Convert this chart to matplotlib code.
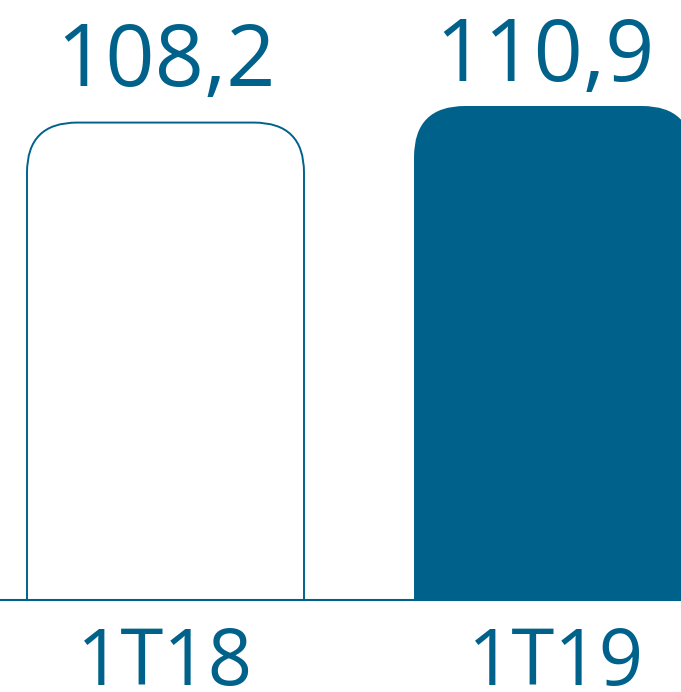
import matplotlib
matplotlib.use("Agg")
import matplotlib.pyplot as plt
from matplotlib.patches import FancyBboxPatch

categories = ["1T18", "1T19"]
values = [108.2, 110.9]
value_labels = ["108,2", "110,9"]

TEAL = "#00628b"
plt.rcParams["font.family"] = ["Open Sans", "DejaVu Sans"]

W, H = 681, 692
fig = plt.figure(figsize=(W / 100, H / 100), dpi=100)
base_px = 600
ax = fig.add_axes([0, (H - base_px) / H, 1, base_px / H])

spacing_px = 388.0
x0_px = 165.5
ax.set_xlim(-x0_px / spacing_px, (W - x0_px) / spacing_px)
y_bottom, y_per_px = 25.6, 1 / 5.78
ax.set_ylim(y_bottom, y_bottom + base_px * y_per_px)

width = 277 / spacing_px
aspect = y_per_px / (1 / spacing_px)
radius = 50 / spacing_px
for i, v in enumerate(values):
    filled = i == 1
    patch = FancyBboxPatch(
        (i - width / 2, y_bottom - 20), width, v - y_bottom + 20,
        boxstyle=f"round,pad=0,rounding_size={radius}",
        mutation_aspect=aspect,
        facecolor=TEAL if filled else "white",
        edgecolor=TEAL, linewidth=1.4,
    )
    ax.add_patch(patch)

# value labels above the bars
offsets = [(0, 26), (-6, 19)]
for i, (v, lab) in enumerate(zip(values, value_labels)):
    ax.annotate(lab, (i, v), xytext=offsets[i], textcoords="offset points",
                ha="center", va="baseline", fontsize=62, color=TEAL)

# category labels under the baseline
cat_dx = [0, 3]
for i, cat in enumerate(categories):
    ax.annotate(cat, (i, y_bottom), xytext=(cat_dx[i] * 0.72, -61), textcoords="offset points",
                ha="center", va="baseline", fontsize=56, color=TEAL, annotation_clip=False)

ax.axhline(y_bottom, color=TEAL, linewidth=1.5, clip_on=False)
ax.set_xticks([])
ax.set_yticks([])
for s in ax.spines.values():
    s.set_visible(False)

fig.savefig("out.png", dpi=100)
